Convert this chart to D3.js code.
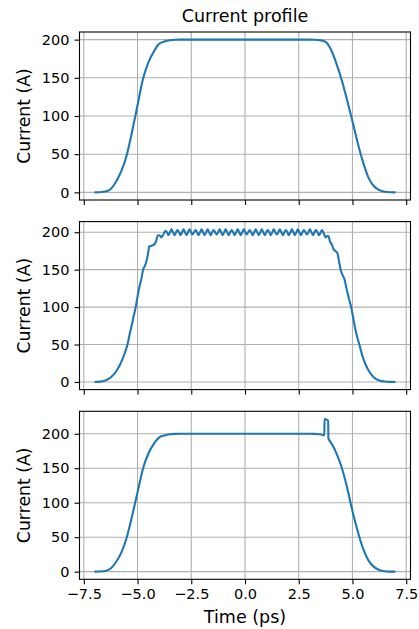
<!DOCTYPE html>
<html>
<head>
<meta charset="utf-8">
<script src="https://cdn.jsdelivr.net/npm/d3@7"></script>
<style>
  body { margin: 0; background: #fff; }
  svg { display: block; font-family: 'DejaVu Sans', sans-serif; }
</style>
</head>
<body>
<svg id="chart" width="419" height="629"></svg>
<script>
// tick values
const xTicks = [-7.5, -5.0, -2.5, 0.0, 2.5, 5.0, 7.5];
const yTicks = [0, 50, 100, 150, 200];

// panel 1 : clean flat-top profile
const time1 = [-7, -6.75, -6.5, -6.25, -6, -5.75, -5.5, -5.25, -5, -4.75, -4.5, -4.25, -4, -3.75, -3.5, -3.25, -3,
  -1.5, 0, 1.5, 3, 3.25, 3.5, 3.75, 4, 4.25, 4.5, 4.75, 5, 5.25, 5.5, 5.75, 6, 6.25, 6.5, 6.75, 7];
const current1 = [0, 0.2, 1, 4.5, 14, 28, 49, 80, 114, 148, 170, 184, 194.5, 197.5, 199.3, 199.9, 200,
  200, 200, 200, 200, 199.9, 199.2, 197, 187, 169, 147, 121, 93, 64, 39, 19, 8, 3, 0.8, 0.1, 0];

// panel 2 : modulated profile
const time2Rise = [-7, -6.75, -6.5, -6.25, -6, -5.8, -5.6, -5.45, -5.35, -5.25, -5.18, -5.1, -5, -4.92, -4.82,
  -4.74, -4.66, -4.6, -4.52, -4.45, -4.35, -4.25, -4.15, -4.05, -3.98, -3.9, -3.8];
const current2Rise = [0, 0.4, 2, 6, 14, 24, 38, 52, 66, 78, 88, 98, 114, 126, 138,
  150, 155, 160, 170, 181, 182, 183, 187, 196, 196, 193, 197];
const time2Ripple = [-3.70, -3.63, -3.56, -3.49, -3.42, -3.35, -3.28, -3.21, -3.14, -3.07, -3.00, -2.93,
  -2.86, -2.79, -2.72, -2.65, -2.58, -2.51, -2.44, -2.37, -2.30, -2.23, -2.16, -2.09, -2.02, -1.95, -1.88,
  -1.81, -1.74, -1.67, -1.60, -1.53, -1.46, -1.39, -1.32, -1.25, -1.18, -1.11, -1.04, -0.97, -0.90, -0.83,
  -0.76, -0.69, -0.62, -0.55, -0.48, -0.41, -0.34, -0.27, -0.20, -0.13, -0.06, 0.01, 0.08, 0.15, 0.22,
  0.29, 0.36, 0.43, 0.50, 0.57, 0.64, 0.71, 0.78, 0.85, 0.92, 0.99, 1.06, 1.13, 1.20, 1.27, 1.34, 1.41,
  1.48, 1.55, 1.62, 1.69, 1.76, 1.83, 1.90, 1.97, 2.04, 2.11, 2.18, 2.25, 2.32, 2.39, 2.46, 2.53, 2.60,
  2.67, 2.74, 2.81, 2.88, 2.95, 3.02, 3.09, 3.16, 3.23, 3.30, 3.37, 3.44, 3.51, 3.58];
const current2Ripple = [
  202, 200, 196, 200, 204, 200, 196, 200, 203, 200, 196, 200, 204, 200, 196, 200,
  204, 200, 197, 200, 203, 200, 196, 200, 204, 200, 196, 200, 204, 200, 196, 200,
  203, 200, 197, 200, 204, 200, 196, 200, 204, 200, 196, 200, 203, 200, 196, 200,
  204, 200, 196, 200, 204, 200, 197, 200, 203, 200, 196, 200, 204, 200, 196, 200,
  204, 200, 196, 200, 203, 200, 196, 200, 204, 200, 197, 200, 204, 200, 196, 200,
  203, 200, 196, 200, 204, 200, 196, 200, 204, 200, 196, 200, 203, 200, 197, 200,
  204, 200, 196, 200, 203, 200, 196, 199, 203];
const time2Fall = [3.66, 3.75, 3.82, 3.88, 3.95, 4.05, 4.12, 4.2, 4.3, 4.38, 4.46, 4.55, 4.63, 4.72, 4.82,
  4.92, 5.02, 5.12, 5.22, 5.32, 5.45, 5.6, 5.8, 6, 6.25, 6.5, 6.75, 7];
const current2Fall = [199, 193, 195, 195, 188, 183, 177, 175, 172, 160, 149, 142, 137, 125, 113,
  102, 88, 72, 60, 50, 36, 24, 13, 6, 2, 0.6, 0.1, 0];
const time2 = time2Rise.concat(time2Ripple, time2Fall);
const current2 = current2Rise.concat(current2Ripple, current2Fall);

// panel 3 : profile with a spike
const time3 = [-7, -6.75, -6.5, -6.25, -6, -5.75, -5.5, -5.25, -5, -4.75, -4.5, -4.25, -4, -3.75, -3.5, -3.25, -3,
  -1.5, 0, 1.5, 3, 3.25, 3.5, 3.69, 3.70, 3.75, 3.87, 3.88, 3.9, 4, 4.1, 4.25, 4.5, 4.75, 5, 5.25, 5.5, 5.75,
  6, 6.25, 6.5, 6.75, 7];
const current3 = [0, 0.2, 1, 4.5, 14, 28, 50, 81, 115, 149, 171, 185, 194.5, 197.5, 199.3, 199.9, 200,
  200, 200, 200, 200, 199.8, 199.2, 197.5, 221.5, 221, 219, 193.5, 192, 187, 182, 172, 151, 122, 88, 58, 33, 16,
  7, 2.5, 0.6, 0.1, 0];

const panels = [
  { t: time1, c: current1 },
  { t: time2, c: current2 },
  { t: time3, c: current3 }
];

const left = 79.5, right = 410.5;
const tops = [32, 221.6, 411.3];
const ph = 168;
const fmt = d3.format('.1f');

const svg = d3.select('#chart');

svg.append('text')
  .attr('x', (left + right) / 2)
  .attr('y', 21.5)
  .attr('text-anchor', 'middle')
  .attr('font-size', 17.5)
  .text('Current profile');

panels.forEach(function(p, i) {
  let top = tops[i];
  let data = p.t.map(function(t, j) { return { t: t, c: p.c[j] }; });

  let xe = d3.extent(p.t), ye = d3.extent(p.c);
  let xm = (xe[1] - xe[0]) * 0.05, ym = (ye[1] - ye[0]) * 0.05;

  let x = d3.scaleLinear().domain([xe[0] - xm, xe[1] + xm]).range([left, right]);
  let y = d3.scaleLinear().domain([ye[0] - ym, ye[1] + ym]).range([top + ph, top]);

  let g = svg.append('g');

  // grid
  g.selectAll('line.gx').data(xTicks).enter().append('line')
    .attr('x1', d => x(d)).attr('x2', d => x(d))
    .attr('y1', top).attr('y2', top + ph)
    .attr('stroke', '#b0b0b0').attr('stroke-width', 1.1);
  g.selectAll('line.gy').data(yTicks).enter().append('line')
    .attr('x1', left).attr('x2', right)
    .attr('y1', d => y(d)).attr('y2', d => y(d))
    .attr('stroke', '#b0b0b0').attr('stroke-width', 1.1);

  // curve
  let line = d3.line()
    .x(d => x(d.t))
    .y(d => y(d.c))
    .curve(d3.curveMonotoneX);
  g.append('path')
    .datum(data)
    .attr('d', line)
    .attr('fill', 'none')
    .attr('stroke', '#1f77b4')
    .attr('stroke-width', 2.1)
    .attr('stroke-linejoin', 'round');

  // axes
  let ax = g.append('g')
    .attr('transform', 'translate(0,' + (top + ph) + ')')
    .call(d3.axisBottom(x).tickValues(xTicks).tickSize(5).tickPadding(4)
      .tickFormat(i == 2 ? fmt : ''));
  let ay = g.append('g')
    .attr('transform', 'translate(' + left + ',0)')
    .call(d3.axisLeft(y).tickValues(yTicks).tickSize(5).tickPadding(5));

  [ax, ay].forEach(function(a) {
    a.select('.domain').remove();
    a.selectAll('line').attr('stroke', '#000').attr('stroke-width', 1.1);
    a.selectAll('text').attr('font-size', 14.5).attr('fill', '#000')
      .attr('font-family', "'DejaVu Sans', sans-serif");
  });

  // spines
  g.append('rect')
    .attr('x', left).attr('y', top)
    .attr('width', right - left).attr('height', ph)
    .attr('fill', 'none').attr('stroke', '#000').attr('stroke-width', 1.1);

  g.append('text')
    .attr('transform', 'translate(29.5,' + (top + ph / 2) + ') rotate(-90)')
    .attr('text-anchor', 'middle')
    .attr('font-size', 17.3)
    .text('Current (A)');
});

svg.append('text')
  .attr('x', (left + right) / 2)
  .attr('y', 623)
  .attr('text-anchor', 'middle')
  .attr('font-size', 17.5)
  .text('Time (ps)');
</script>
</body>
</html>
